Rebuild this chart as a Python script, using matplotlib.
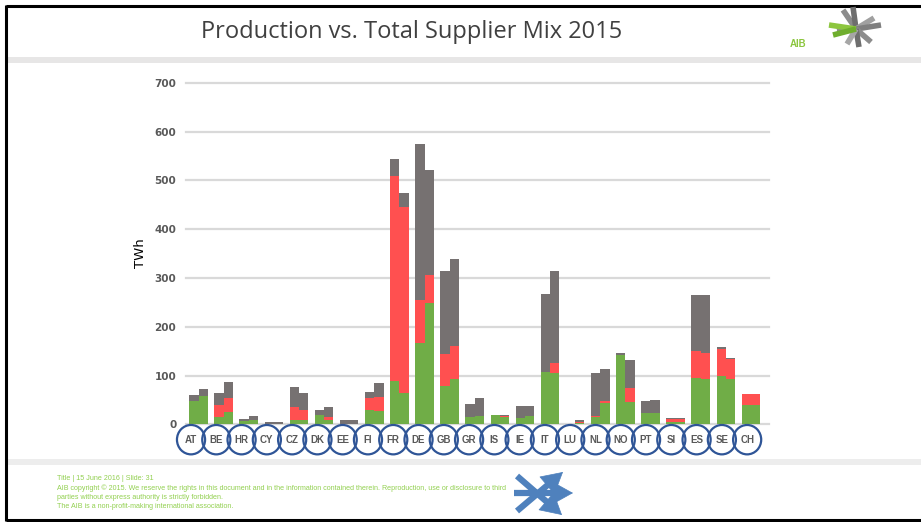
import matplotlib
matplotlib.use("Agg")
import matplotlib.pyplot as plt
from matplotlib.patches import Ellipse
import numpy as np

# ── Data (TWh) ───────────────────────────────────────────────────────────────
countries = ["AT", "BE", "HR", "CY", "CZ", "DK", "EE", "FI", "FR", "DE", "GB", "GR",
             "IS", "IE", "IT", "LU", "NL", "NO", "PT", "SI", "ES", "SE", "CH"]

# left bar of each pair: production
prod_green = [48, 14, 7, 0, 9, 19, 0, 30, 89, 166, 79, 14, 19, 12, 108, 0, 14, 141, 24, 5, 95, 100, 39]
prod_red = [0, 26, 0, 0, 26, 0, 0, 23, 420, 89, 66, 0, 0, 0, 0, 0, 3, 0, 0, 5, 55, 55, 24]
prod_grey = [13, 24, 3, 5, 41, 10, 8, 13, 34, 319, 170, 28, 0, 26, 160, 0, 88, 6, 23, 3, 115, 3, 0]

# right bar of each pair: total supplier mix
mix_green = [58, 25, 9, 0, 9, 9, 0, 27, 64, 248, 92, 17, 14, 17, 105, 2, 44, 45, 24, 5, 92, 92, 39]
mix_red = [0, 28, 0, 0, 20, 5, 0, 28, 382, 57, 68, 0, 4, 0, 20, 3, 4, 30, 0, 5, 55, 42, 24]
mix_grey = [14, 34, 7, 5, 35, 21, 8, 29, 29, 217, 178, 36, 1, 21, 190, 3, 65, 57, 26, 3, 118, 2, 0]

yticks = [0, 100, 200, 300, 400, 500, 600, 700]

title = "Production vs. Total Supplier Mix 2015"
footer = [
    "Title | 15 June 2016 | Slide: 31",
    "AIB copyright \u00a9 2015. We reserve the rights in this document and in the information "
    "contained therein. Reproduction, use or disclosure to third",
    "parties without express authority is strictly forbidden.",
    "The AIB is a non-profit-making international association.",
]

GREEN = "#70AD47"
RED = "#FF5050"
GREY = "#767171"
W, H = 921, 522

fig = plt.figure(figsize=(W / 100, H / 100), dpi=100)

# ── Slide background (pixel coordinates) ────────────────────────────────────
bg = fig.add_axes([0, 0, 1, 1], zorder=0)
bg.set_xlim(0, W)
bg.set_ylim(H, 0)
bg.axis("off")
bg.plot([6, W + 5], [6, 6], color="black", lw=2.2, solid_capstyle="butt")
bg.plot([6, 6], [5, 521], color="black", lw=2.2, solid_capstyle="butt")
bg.plot([6, W + 5], [520, 520], color="black", lw=2.2, solid_capstyle="butt")
bg.fill_between([7, W], 57, 63, color="#E7E6E6", lw=0)
bg.fill_between([7, W], 459, 465, color="#EDEDED", lw=0)

bg.text(412, 32, title, ha="center", va="center", fontsize=17, color="#404040",
        family="Open Sans")

# AIB logo
bg.text(798, 44, "AIB", ha="center", va="center", fontsize=7, color="#8CC63F",
        fontweight="bold", family="Liberation Sans")
cx, cy = 856, 29
for ex, ey, col in [(843, 10, "#8C8C8C"), (853, 7, "#6E6E6E"), (874, 18, "#A0A0A0"),
                    (881, 25, "#7F7F7F"), (871, 42, "#8C8C8C"), (859, 47, "#6E6E6E"),
                    (847, 44, "#A6A6A6"), (837, 31, "#8C8C8C"),
                    (829, 25, "#8DC63F"), (833, 35, "#6FAE2E")]:
    bg.plot([cx, ex], [cy, ey], color=col, lw=4, solid_capstyle="butt")

# footer
for k, line in enumerate(footer):
    bg.text(57, 479 + 9.3 * k, line, ha="left", va="center", fontsize=5.1,
            color="#92D050", family="Liberation Sans")

# crossing arrows logo: thick shafts plus triangular heads
BLUE = "#4F81BD"
for (x0, y0), (x1, y1) in [((514, 493), (573, 493)), ((517, 476), (562, 515)),
                           ((517, 511), (563, 472))]:
    d = np.hypot(x1 - x0, y1 - y0)
    ux, uy = (x1 - x0) / d, (y1 - y0) / d
    bg.plot([x0, x1 - 8 * ux], [y0, y1 - 8 * uy], color=BLUE, lw=4.5,
            solid_capstyle="butt")
    bg.annotate("", xy=(x1, y1), xytext=(x1 - 14 * ux, y1 - 14 * uy),
                arrowprops=dict(arrowstyle="-|>,head_length=0.9,head_width=0.5",
                                lw=0.5, color=BLUE, mutation_scale=16,
                                shrinkA=0, shrinkB=0))

# ── Chart ────────────────────────────────────────────────────────────────────
ax = fig.add_axes([186 / W, 1 - 424.3 / H, 583 / W, 341.6 / H], zorder=1)
ax.patch.set_alpha(0)
x = np.arange(len(countries))
bw = 0.37

for pos, g, r, gr in [(x - bw / 2, prod_green, prod_red, prod_grey),
                      (x + bw / 2, mix_green, mix_red, mix_grey)]:
    g = np.array(g)
    r = np.array(r)
    gr = np.array(gr)
    ax.bar(pos, g, bw, color=GREEN, zorder=3, lw=0)
    ax.bar(pos, r, bw, bottom=g, color=RED, zorder=3, lw=0)
    ax.bar(pos, gr, bw, bottom=g + r, color=GREY, zorder=3, lw=0)

for t in yticks:
    ax.axhline(t, color="#D9D9D9", lw=1.6, zorder=1, clip_on=False)

ax.set_xlim(-0.5, 22.72)
ax.set_ylim(0, 700)
ax.set_yticks(yticks)
ax.set_yticklabels([str(t) for t in yticks], fontsize=7.5, fontweight="bold", color="#595959")
ax.tick_params(axis="y", length=0, pad=7)
ax.set_xticks([])
for s in ax.spines.values():
    s.set_visible(False)
ax.set_ylabel("TWh", fontsize=9.5, color="black", labelpad=5)

# circled country labels under the axis
trans = ax.get_xaxis_transform()
for i, c in enumerate(countries):
    xc = i * 1.0068 - 0.3
    ax.add_patch(Ellipse((xc, -0.045), 1.12, 0.086, transform=trans, fill=False,
                         edgecolor="#2F5597", lw=1.6, clip_on=False, zorder=4))
    ax.text(xc, -0.045, c, transform=trans, ha="center", va="center", fontsize=7,
            fontweight="bold", color="#595959", family="Liberation Sans", zorder=5)

fig.savefig("out.png", dpi=100)
